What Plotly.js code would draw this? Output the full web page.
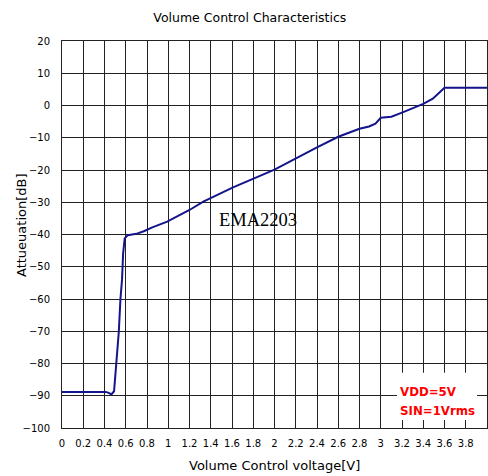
<!DOCTYPE html>
<html>
<head>
<meta charset="utf-8">
<script src="https://cdn.plot.ly/plotly-3.0.1.min.js"></script>
<style>html,body{margin:0;padding:0;background:#fff;}#chart{width:488px;height:476px;}</style>
</head>
<body>
<div id="chart"></div>
<script>
// Volume control voltage [V]
const voltage = [0, 0.41, 0.44, 0.465, 0.49, 0.5, 0.515, 0.535, 0.55, 0.565, 0.575, 0.59, 0.62, 0.7, 0.77, 0.85, 0.99, 1.2, 1.33, 1.61, 2.0, 2.2, 2.4, 2.6, 2.8, 2.89, 2.95, 3.0, 3.1, 3.2, 3.4, 3.49, 3.55, 3.6, 4.0];
// Attenuation [dB]
const attenuation = [-88.8, -88.8, -89.1, -89.6, -88.6, -84, -80, -70, -60, -54, -46, -41.2, -40.2, -39.8, -39.0, -37.8, -36.0, -32.4, -29.8, -25.4, -19.9, -16.4, -13.0, -9.7, -7.2, -6.5, -5.6, -3.8, -3.5, -2.2, 0.5, 2.1, 3.8, 5.5, 5.5];
const xTicks = [0,0.2,0.4,0.6,0.8,1,1.2,1.4,1.6,1.8,2,2.2,2.4,2.6,2.8,3,3.2,3.4,3.6,3.8,4];
const xTickText = ["0","0.2","0.4","0.6","0.8","1","1.2","1.4","1.6","1.8","2","2.2","2.4","2.6","2.8","3","3.2","3.4","3.6","3.8","4"];
const yTicks = [20,10,0,-10,-20,-30,-40,-50,-60,-70,-80,-90,-100];

const font = "DejaVu Sans, Verdana, sans-serif";
const data = [{
  x: voltage, y: attenuation, type: 'scatter', mode: 'lines',
  line: {color: '#14148c', width: 2}, hoverinfo: 'skip', showlegend: false
}];
const layout = {
  width: 488, height: 476,
  margin: {l: 62, r: 1, t: 41, b: 48},
  paper_bgcolor: '#fff', plot_bgcolor: '#fff',
  font: {family: font, size: 10, color: '#000'},
  title: {text: 'Volume Control Characteristics', font: {family: font, size: 12.5, color: '#000'},
          x: 0.512, xanchor: 'center', y: 0.964, yanchor: 'middle'},
  xaxis: {range: [0, 4], tickvals: xTicks, ticktext: xTickText, showgrid: true, gridcolor: '#222', gridwidth: 1,
          zeroline: false, showline: true, linecolor: '#222', linewidth: 1, mirror: true,
          ticks: '', ticklabelstandoff: 6, tickfont: {family: font, size: 10, color: '#000'}},
  yaxis: {range: [-100, 20], tickvals: yTicks, showgrid: true, gridcolor: '#222', gridwidth: 1,
          zeroline: false, showline: true, linecolor: '#222', linewidth: 1, mirror: true,
          ticks: '', ticklabelstandoff: 9, tickfont: {family: font, size: 10, color: '#000'}},
  shapes: [{type: 'rect', xref: 'x', yref: 'y', x0: 3.153, x1: 3.906, y0: -97.5, y1: -82.9,
            fillcolor: '#fff', line: {width: 0}, layer: 'above'}],
  annotations: [
    {text: 'Attueuation[dB]', xref: 'paper', yref: 'paper', x: -62/425 + 21/425, y: (428-225)/387,
     xanchor: 'center', yanchor: 'middle', textangle: -90, showarrow: false, font: {family: font, size: 13, color: '#000'}},
    {text: 'Volume Control voltage[V]', xref: 'paper', yref: 'paper', x: 0.5, y: -(465-428)/387,
     xanchor: 'center', yanchor: 'middle', showarrow: false, font: {family: font, size: 13, color: '#000'}},
    {text: 'EMA2203', xref: 'x', yref: 'y', x: 1.84, y: -35.5, xanchor: 'center', yanchor: 'middle',
     showarrow: false, font: {family: 'Liberation Serif, Times New Roman, serif', size: 18.5, color: '#000'}},
    {text: '<b>VDD=5V</b>', xref: 'x', yref: 'y', x: 3.16, y: -88.8, xanchor: 'left', yanchor: 'middle',
     showarrow: false, font: {family: font, size: 11.8, color: '#ff0000'}},
    {text: '<b>SIN=1Vrms</b>', xref: 'x', yref: 'y', x: 3.16, y: -94.7, xanchor: 'left', yanchor: 'middle',
     showarrow: false, font: {family: font, size: 11.8, color: '#ff0000'}}
  ]
};
Plotly.newPlot('chart', data, layout, {staticPlot: true, displayModeBar: false});
</script>
</body>
</html>
